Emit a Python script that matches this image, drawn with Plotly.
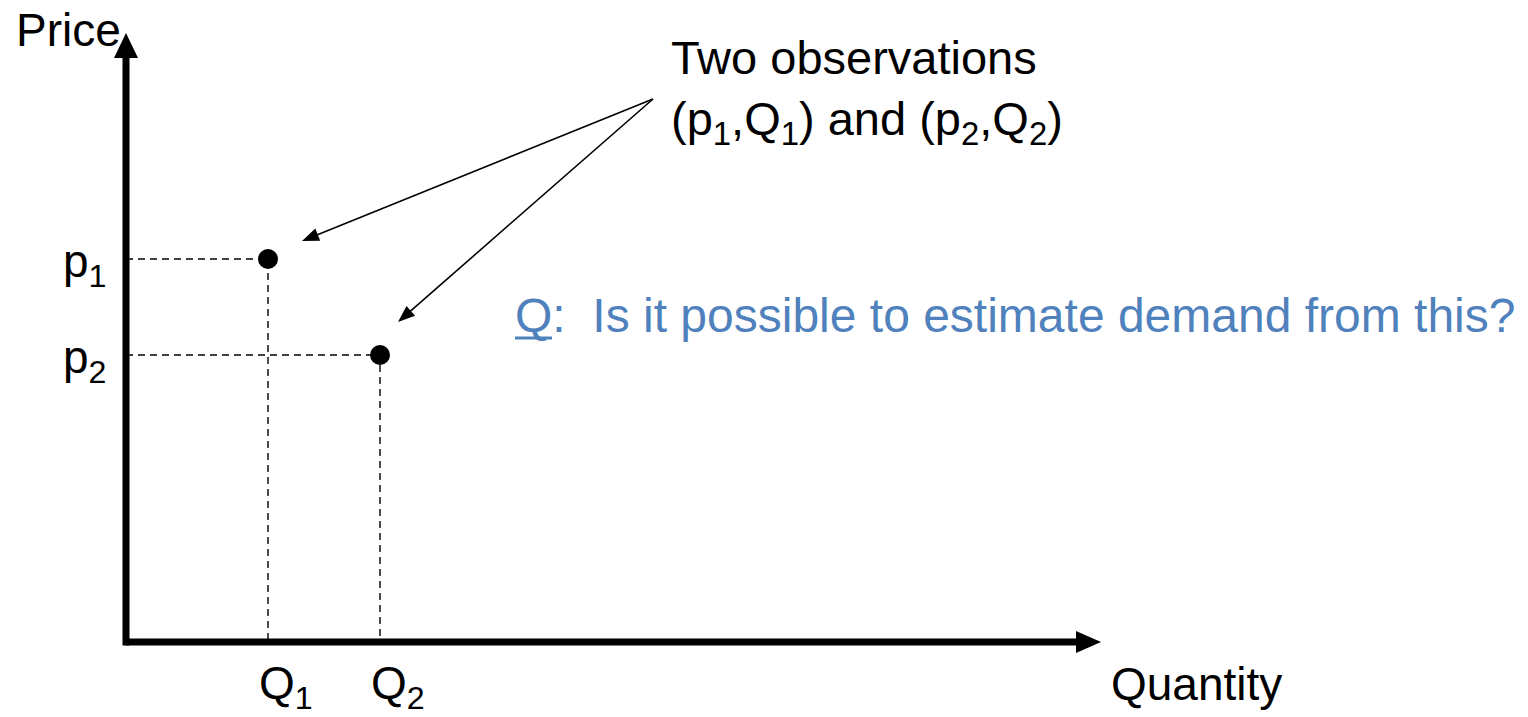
import numpy as np
import plotly.graph_objects as go

# Observed price/quantity pairs (axis units)
obs_names = ["1", "2"]
quantities = [1.42, 2.54]
prices = [3.83, 2.87]

# Axis extents (where the arrow tips sit)
x_axis_end = 9.75
y_axis_end = 6.09

# Callout: where the two arrows start and where they point
callout_start = (5.27, 5.43)
callout_tips = [(1.76, 4.01), (2.72, 3.20)]

FONT = "Liberation Sans, Arial, sans-serif"
BLUE = "#4F81BD"

fig = go.Figure()

# Dashed guide lines from each point to both axes
for q, p in zip(quantities, prices):
    fig.add_trace(go.Scatter(
        x=[0, q, q], y=[p, p, 0], mode="lines",
        line=dict(color="black", width=1.4, dash="7px,5px"),
        hoverinfo="skip", showlegend=False))

# The observations themselves
fig.add_trace(go.Scatter(
    x=quantities, y=prices, mode="markers",
    marker=dict(color="black", size=20, line=dict(width=0)),
    showlegend=False))


def triangle(tip, direction, length, half_width):
    """Filled arrowhead path pointing along `direction`, ending at `tip`."""
    d = np.asarray(direction, float)
    d = d / np.linalg.norm(d)
    n = np.array([-d[1], d[0]])
    t = np.asarray(tip, float)
    base = t - d * length
    a = base + n * half_width
    b = base - n * half_width
    return f"M {t[0]},{t[1]} L {a[0]},{a[1]} L {b[0]},{b[1]} Z"


shapes = []
# Axis lines
shapes.append(dict(type="line", x0=0, y0=0, x1=x_axis_end - 0.2, y1=0,
                   line=dict(color="black", width=7), layer="above"))
shapes.append(dict(type="line", x0=0, y0=-0.035, x1=0, y1=y_axis_end - 0.2,
                   line=dict(color="black", width=7), layer="above"))
shapes.append(dict(type="path", path=triangle((x_axis_end, 0), (1, 0), 0.25, 0.11),
                   fillcolor="black", line=dict(width=0), layer="above"))
shapes.append(dict(type="path", path=triangle((0, y_axis_end), (0, 1), 0.25, 0.12),
                   fillcolor="black", line=dict(width=0), layer="above"))

# Thin callout arrows
for tip in callout_tips:
    d = np.array(tip) - np.array(callout_start)
    u = d / np.linalg.norm(d)
    end = np.array(tip) - u * 0.12
    shapes.append(dict(type="line", x0=callout_start[0], y0=callout_start[1],
                       x1=end[0], y1=end[1],
                       line=dict(color="black", width=1.6)))
    shapes.append(dict(type="path", path=triangle(tip, d, 0.17, 0.065),
                       fillcolor="black", line=dict(width=0)))

# Underline beneath the leading "Q" of the question
shapes.append(dict(type="line", x0=3.89, x1=4.26, y0=3.04, y1=3.04,
                   line=dict(color=BLUE, width=3)))

annotations = []


def label(text, x, y, size=46, color="black", xanchor="left", yanchor="middle", align="left"):
    annotations.append(dict(text=text, x=x, y=y, xref="x", yref="y",
                            xanchor=xanchor, yanchor=yanchor, align=align,
                            showarrow=False,
                            font=dict(family=FONT, size=size, color=color)))


label("Price", -1.12, 6.12)
label("Quantity", 9.83, -0.42)
for name, q, p in zip(obs_names, quantities, prices):
    label(f"p<sub>{name}</sub>", -0.65, p - 0.05)
    label(f"Q<sub>{name}</sub>", q - 0.11, -0.44)

label("Two observations<br>(p<sub>1</sub>,Q<sub>1</sub>) and (p<sub>2</sub>,Q<sub>2</sub>)",
      5.43, 5.51, size=47)
label("Q:\u00a0\u00a0Is it possible to estimate demand from this?",
      3.87, 3.27, size=48, color=BLUE)

fig.update_layout(
    width=1528, height=717,
    margin=dict(l=0, r=0, t=0, b=0),
    paper_bgcolor="white", plot_bgcolor="white",
    xaxis=dict(range=[-1.26, 14.02], visible=False, fixedrange=True),
    yaxis=dict(range=[-0.75, 6.42], visible=False, fixedrange=True),
    shapes=shapes, annotations=annotations,
    showlegend=False,
)

fig.write_html("out.html")
